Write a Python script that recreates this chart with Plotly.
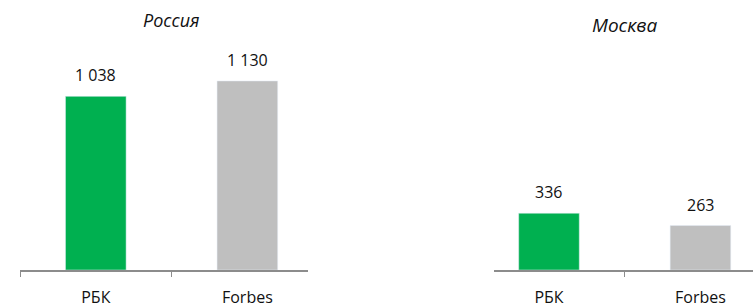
import plotly.graph_objects as go

categories = ["РБК", "Forbes"]
russia_values = [1038, 1130]
moscow_values = [336, 263]
panel_titles = ["Россия", "Москва"]
bar_colors = ["#00B050", "#BFBFBF"]

W, H = 753, 307
FONT = "Open Sans"

def fmt(v):
    return f"{v:,}".replace(",", " ")

fig = go.Figure()
fig.add_trace(go.Bar(x=categories, y=russia_values, marker_color=bar_colors, width=0.4,
                     xaxis="x", yaxis="y", hoverinfo="skip"))
fig.add_trace(go.Bar(x=categories, y=moscow_values, marker_color=bar_colors, width=0.4,
                     xaxis="x2", yaxis="y2", hoverinfo="skip"))

axis_y_paper = (H - 270) / H

common_x = dict(type="category", showline=True, linecolor="#8C8C8C", linewidth=2,
                ticks="outside", tickson="boundaries", ticklen=5, tickcolor="#8C8C8C",
                tickwidth=1, showgrid=False, zeroline=False, fixedrange=True, automargin=False,
                tickfont=dict(family=FONT, size=16, color="#111"), ticklabelstandoff=12)
common_y = dict(visible=False, showgrid=False, zeroline=False, fixedrange=True, automargin=False)

fig.update_layout(
    width=W, height=H, margin=dict(l=0, r=0, t=0, b=0, autoexpand=False),
    paper_bgcolor="white", plot_bgcolor="white", showlegend=False,
    xaxis=dict(domain=[20 / W, 308 / W], range=[-0.5, 1.4], anchor="y", **common_x),
    yaxis=dict(domain=[axis_y_paper, 1], range=[0, 1614], anchor="x", **common_y),
    xaxis2=dict(domain=[494 / W, 1], range=[-0.363, 1.347], anchor="y2", **common_x),
    yaxis2=dict(domain=[axis_y_paper, 1], range=[0, 1598], anchor="x2", **common_y),
)

annotations = []
for xa, ya, vals in [("x", "y", russia_values), ("x2", "y2", moscow_values)]:
    for c, v in zip(categories, vals):
        annotations.append(dict(x=c, y=v, xref=xa, yref=ya, text=fmt(v), showarrow=False,
                                yanchor="bottom", yshift=8,
                                font=dict(family=FONT, size=16, color="#111")))
annotations.append(dict(x=0.5, xref="x", y=(H - 20) / H, yref="paper", yanchor="middle",
                        text=f"<i>{panel_titles[0]}</i>",
                        showarrow=False, font=dict(family=FONT, size=18, color="#111")))
annotations.append(dict(x=0.5, xref="x2", y=(H - 25) / H, yref="paper", yanchor="middle",
                        text=f"<i>{panel_titles[1]}</i>",
                        showarrow=False, font=dict(family=FONT, size=19, color="#111")))
fig.update_layout(annotations=annotations)

fig.write_html("out.html", config={"displayModeBar": False},
               post_script="document.body.style.margin='0';document.body.style.overflow='hidden';")
